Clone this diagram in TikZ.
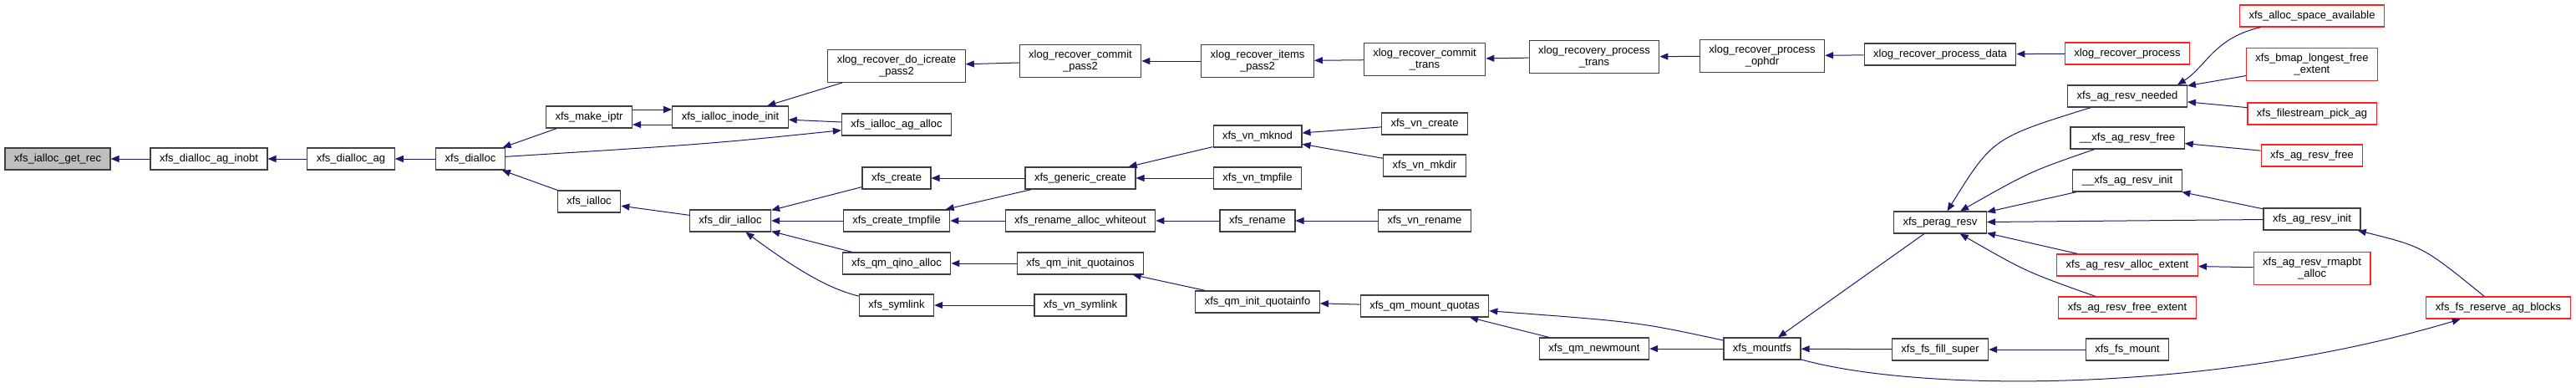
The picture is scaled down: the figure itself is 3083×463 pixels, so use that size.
\documentclass[tikz,border=0pt]{standalone}
\usepackage{fontspec}
\setmainfont{Liberation Sans}
\usetikzlibrary{arrows.meta}
\definecolor{edgeblue}{HTML}{191970}
\definecolor{boxgray}{HTML}{404040}
\definecolor{boxred}{HTML}{FF2020}
\tikzset{
  fnbox/.style={draw=boxgray,fill=white,line width=1.2pt,inner xsep=11pt,inner ysep=6pt,
    minimum height=26pt,align=center,font=\fontsize{13}{14.5}\selectfont},
  fn/.style={fnbox,text height=9.5pt,text depth=2.8pt},
  fntwo/.style={fnbox},
  fnred/.style={fn,draw=boxred},
  fntwored/.style={fntwo,draw=boxred},
  fnhere/.style={fn,fill=black!25},
  call/.style={draw=edgeblue,line width=1pt,{Triangle[length=10pt,width=8pt]}-},
}
\begin{document}
\begin{tikzpicture}[x=1pt,y=-1pt]
\useasboundingbox (0,0) rectangle (3083,463);
% callees on the left
\node[fnhere] (getrec) at (69,190) {xfs\_ialloc\_get\_rec};
\node[fn] (inobt) at (250,190) {xfs\_dialloc\_ag\_inobt};
\node[fn] (dialag) at (420,190) {xfs\_dialloc\_ag};
\node[fn] (dialloc) at (563,190) {xfs\_dialloc};
\node[fn] (makeiptr) at (705,140) {xfs\_make\_iptr};
\node[fn] (ialloc) at (705,241) {xfs\_ialloc};
\node[fn] (inodeinit) at (874,140) {xfs\_ialloc\_inode\_init};
\node[fn] (dirialloc) at (874,264) {xfs\_dir\_ialloc};
% middle columns
\node[fntwo] (icreate) at (1073,79) {xlog\_recover\_do\_icreate\\\_pass2};
\node[fn] (agalloc) at (1073,149) {xfs\_ialloc\_ag\_alloc};
\node[fn] (create) at (1073,213) {xfs\_create};
\node[fn] (tmpfile) at (1073,264) {xfs\_create\_tmpfile};
\node[fn] (qinoalloc) at (1073,315) {xfs\_qm\_qino\_alloc};
\node[fn] (symlink) at (1073,365) {xfs\_symlink};
\node[fntwo] (commitpass) at (1293,73) {xlog\_recover\_commit\\\_pass2};
\node[fn] (gencreate) at (1293,213) {xfs\_generic\_create};
\node[fn] (whiteout) at (1293,264) {xfs\_rename\_alloc\_whiteout};
\node[fn] (quotainos) at (1293,315) {xfs\_qm\_init\_quotainos};
\node[fn] (vnsymlink) at (1293,365) {xfs\_vn\_symlink};
\node[fntwo] (itemspass) at (1505,73) {xlog\_recover\_items\\\_pass2};
\node[fn] (mknod) at (1505,163) {xfs\_vn\_mknod};
\node[fn] (vntmpfile) at (1505,213) {xfs\_vn\_tmpfile};
\node[fn] (rename) at (1505,264) {xfs\_rename};
\node[fn] (quotainfo) at (1505,361) {xfs\_qm\_init\_quotainfo};
\node[fntwo] (committrans) at (1705,71) {xlog\_recover\_commit\\\_trans};
\node[fn] (vncreate) at (1705,148) {xfs\_vn\_create};
\node[fn] (vnmkdir) at (1705,198) {xfs\_vn\_mkdir};
\node[fn] (vnrename) at (1705,264) {xfs\_vn\_rename};
\node[fn] (mountquotas) at (1705,366) {xfs\_qm\_mount\_quotas};
\node[fntwo] (proctrans) at (1908,68) {xlog\_recovery\_process\\\_trans};
\node[fn] (newmount) at (1908,417) {xfs\_qm\_newmount};
\node[fntwo] (ophdr) at (2109,67) {xlog\_recover\_process\\\_ophdr};
\node[fn] (mountfs) at (2109,417) {xfs\_mountfs};
% callers on the right
\node[fn] (procdata) at (2322,65) {xlog\_recover\_process\_data};
\node[fn] (peragresv) at (2322,266) {xfs\_perag\_resv};
\node[fn] (fillsuper) at (2322,418) {xfs\_fs\_fill\_super};
\node[fnred] (recprocess) at (2546,64) {xlog\_recover\_process};
\node[fn] (resvneeded) at (2546,115) {xfs\_ag\_resv\_needed};
\node[fn] (resvfreeint) at (2546,165) {\_\_xfs\_ag\_resv\_free};
\node[fn] (resvinitint) at (2546,216) {\_\_xfs\_ag\_resv\_init};
\node[fnred] (allocext) at (2546,317) {xfs\_ag\_resv\_alloc\_extent};
\node[fnred] (freeext) at (2546,368) {xfs\_ag\_resv\_free\_extent};
\node[fn] (fsmount) at (2546,418) {xfs\_fs\_mount};
\node[fnred] (spaceavail) at (2767,19) {xfs\_alloc\_space\_available};
\node[fntwored] (longestfree) at (2767,77) {xfs\_bmap\_longest\_free\\\_extent};
\node[fnred] (pickag) at (2767,136) {xfs\_filestream\_pick\_ag};
\node[fnred] (resvfree) at (2767,186) {xfs\_ag\_resv\_free};
\node[fn] (resvinit) at (2767,262) {xfs\_ag\_resv\_init};
\node[fntwored] (rmapbt) at (2767,321) {xfs\_ag\_resv\_rmapbt\\\_alloc};
\node[fnred] (reserveag) at (2990,368) {xfs\_fs\_reserve\_ag\_blocks};
% calls
\draw[call] (getrec) -- (inobt);
\draw[call] (inobt) -- (dialag);
\draw[call] (dialag) -- (dialloc);
\draw[call] (dialloc) -- (makeiptr);
\draw[call] (dialloc) -- (ialloc);
\draw[call] (agalloc) .. controls (850,172) .. (dialloc);
\draw[call] ([yshift=-9pt]makeiptr.east) -- ([yshift=-9pt]inodeinit.west);
\draw[call] ([yshift=9pt]inodeinit.west) -- ([yshift=9pt]makeiptr.east);
\draw[call] (inodeinit) -- (icreate);
\draw[call] (inodeinit) -- (agalloc);
\draw[call] (icreate) -- (commitpass);
\draw[call] (commitpass) -- (itemspass);
\draw[call] (itemspass) -- (committrans);
\draw[call] (committrans) -- (proctrans);
\draw[call] (proctrans) -- (ophdr);
\draw[call] (ophdr) -- (procdata);
\draw[call] (procdata) -- (recprocess);
\draw[call] (ialloc) -- (dirialloc);
\draw[call] (dirialloc) -- (create);
\draw[call] (dirialloc) -- (tmpfile);
\draw[call] (dirialloc) -- (qinoalloc);
\draw[call] (dirialloc) .. controls (950,320) and (990,345) .. (symlink);
\draw[call] (create) -- (gencreate);
\draw[call] (tmpfile) -- (gencreate);
\draw[call] (tmpfile) -- (whiteout);
\draw[call] (gencreate) -- (mknod);
\draw[call] (gencreate) -- (vntmpfile);
\draw[call] (mknod) -- (vncreate);
\draw[call] (mknod) -- (vnmkdir);
\draw[call] (whiteout) -- (rename);
\draw[call] (rename) -- (vnrename);
\draw[call] (qinoalloc) -- (quotainos);
\draw[call] (quotainos) -- (quotainfo);
\draw[call] (quotainfo) -- (mountquotas);
\draw[call] (symlink) -- (vnsymlink);
\draw[call] (mountquotas) -- (newmount);
\draw[call] (mountquotas) .. controls (1960,385) .. (mountfs);
\draw[call] (newmount) -- (mountfs);
\draw[call] (mountfs) -- (peragresv);
\draw[call] (mountfs) -- (fillsuper);
\draw[call] (fillsuper) -- (fsmount);
\draw[call] (reserveag) .. controls (2650,470) and (2300,470) .. (mountfs);
\draw[call] (peragresv) .. controls (2385,165) .. (resvneeded);
\draw[call] (peragresv) .. controls (2430,205) .. (resvfreeint);
\draw[call] (peragresv) -- (resvinitint);
\draw[call] (peragresv) -- (resvinit);
\draw[call] (peragresv) -- (allocext);
\draw[call] (peragresv) .. controls (2425,325) .. (freeext);
\draw[call] ([xshift=-12pt]resvneeded.north east) .. controls (2640,80) and (2650,45) .. (spaceavail);
\draw[call] (resvneeded) -- (longestfree);
\draw[call] (resvneeded) -- (pickag);
\draw[call] (resvfreeint) -- (resvfree);
\draw[call] (resvinitint) -- (resvinit);
\draw[call] (resvinit) .. controls (2900,295) .. (reserveag);
\draw[call] (allocext) -- (rmapbt);
\end{tikzpicture}
\end{document}
